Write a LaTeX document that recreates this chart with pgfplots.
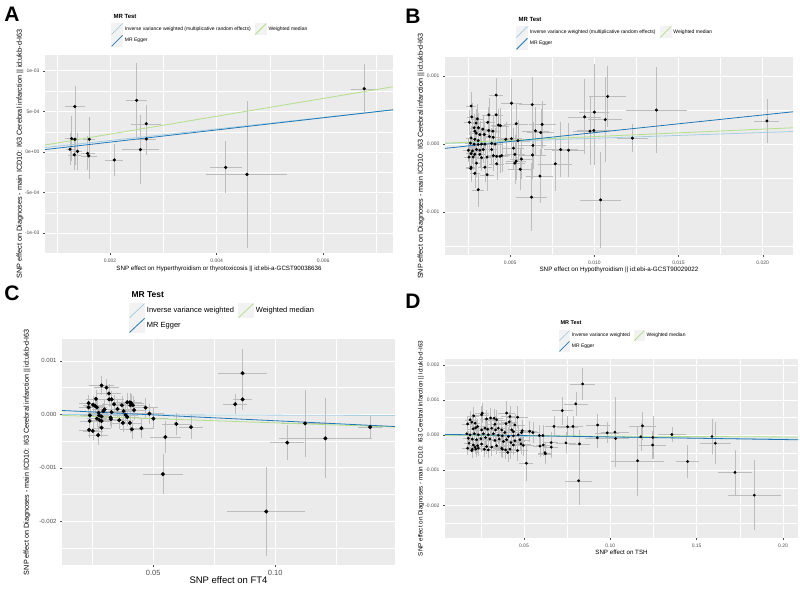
\documentclass[border=0pt]{standalone}
\usepackage{pgfplots}
\usepackage{pgfplotstable}
\pgfplotsset{compat=1.18}
\usepackage{fontspec}
\setmainfont{Liberation Sans}

\definecolor{ggbg}{HTML}{EBEBEB}
\definecolor{ivw}{HTML}{A6CEE3}
\definecolor{egger}{HTML}{1F78B4}
\definecolor{wmed}{HTML}{B2DF8A}
\definecolor{ebar}{HTML}{BDBDBD}
\definecolor{ticklab}{HTML}{4D4D4D}
\definecolor{keybg}{HTML}{F2F2F2}

\newcommand\fs[1]{\fontsize{#1}{#1}\selectfont}

\pgfplotsset{
  ggpanel/.style={
    scale only axis,
    anchor=south west,
    scaled ticks=false,
    axis background/.style={fill=ggbg},
    axis line style={draw=none},
    tick align=outside,
    tick pos=left,
    major tick length=2pt,
    minor tick length=0pt,
    tick style={ticklab, line width=0.4pt},
    grid=both,
    major grid style={white, line width=0.8pt},
    minor grid style={white, line width=0.4pt},
    ticklabel style={text=ticklab},
    /pgf/number format/assume math mode=true,
    legend cell align=left,
    legend columns=2,
    legend style={draw=none, fill=none, anchor=north west,
      /tikz/every even column/.append style={column sep=2pt}},
  },
  pts/.style={only marks, mark=*, mark options={black, fill=black}, forget plot,
    error bars/x dir=both, error bars/x explicit,
    error bars/y dir=both, error bars/y explicit,
    error bars/error bar style={ebar, line width=0.35pt},
    error bars/error mark=none},
}

% panel A: hyperthyroidism
\pgfplotstableread{
x y ex ey
0.00134 5.6e-4 1.9e-4 2.5e-4
0.00128 1.65e-4 1.2e-4 2.8e-4
0.00134 1.57e-4 1.0e-4 3.2e-4
0.00161 1.57e-4 1.1e-4 2.7e-4
0.00125 3.4e-5 8e-5 2.0e-4
0.00139 8e-6 9e-5 2.3e-4
0.00133 -3.4e-5 1.2e-4 1.9e-4
0.00158 -1.7e-5 1.3e-4 2.1e-4
0.00160 -4.7e-5 1.5e-4 2.8e-4
0.00208 -9.8e-5 1.7e-4 2.0e-4
0.00250 6.36e-4 2.0e-4 4.6e-4
0.00268 3.48e-4 2.8e-4 2.3e-4
0.00268 1.61e-4 1.8e-4 2.0e-4
0.00257 3.0e-5 3.5e-4 4.3e-4
0.00417 -1.9e-4 3.0e-4 3.2e-4
0.00457 -2.76e-4 7.6e-4 9.1e-4
0.00677 7.8e-4 2.5e-4 3.0e-4
}\dataA

% panel B: hypothyroidism
\pgfplotstableread{
x y ex ey
0.00417 7.2e-4 4e-4 2.5e-4
0.00268 5.6e-4 3e-4 2e-4
0.00508 6.0e-4 6e-4 3.5e-4
0.00631 5.8e-4 8e-4 4e-4
0.00272 4.0e-4 3e-4 2e-4
0.00305 3.7e-4 3.5e-4 2.2e-4
0.00373 4.3e-4 4e-4 2.5e-4
0.00417 4.3e-4 4e-4 2.6e-4
0.00258 3.2e-4 3e-4 1.8e-4
0.00367 3.2e-4 4e-4 2.2e-4
0.00298 3.1e-4 3e-4 2e-4
0.00430 2.8e-4 4.5e-4 2.4e-4
0.00442 2.7e-4 5e-4 2.6e-4
0.00536 3.0e-4 7e-4 3e-4
0.00690 2.9e-4 8e-4 3.5e-4
0.00286 2.4e-4 3e-4 2e-4
0.00312 2.4e-4 3e-4 2.2e-4
0.00338 2.2e-4 3.5e-4 2e-4
0.00373 2.0e-4 4e-4 2.2e-4
0.00397 1.9e-4 4e-4 2.3e-4
0.00650 1.96e-4 8e-4 3.5e-4
0.00682 1.7e-4 8e-4 3.5e-4
0.00290 1.9e-4 3e-4 2e-4
0.00298 1.6e-4 3e-4 1.9e-4
0.00320 1.4e-4 3.5e-4 2e-4
0.00346 1.4e-4 3.5e-4 2e-4
0.00377 1.1e-4 4e-4 2.2e-4
0.00399 1.0e-4 4e-4 2.2e-4
0.00474 7e-5 5e-4 2.5e-4
0.00508 8e-5 6e-4 2.8e-4
0.00546 5e-5 7e-4 3e-4
0.00268 9e-5 3e-4 1.8e-4
0.00290 7e-5 3e-4 1.9e-4
0.00310 5e-5 3.5e-4 2e-4
0.00264 1.5e-5 3e-4 1.8e-4
0.00286 0 3e-4 1.9e-4
0.00310 -5e-6 3.5e-4 2e-4
0.00330 0 3.5e-4 2e-4
0.00350 0 4e-4 2e-4
0.00390 1e-5 4e-4 2.2e-4
0.00410 0 4e-4 2.3e-4
0.00635 -2e-5 8e-4 3.5e-4
0.00520 -6e-5 6e-4 3e-4
0.00800 -8e-5 1e-3 4e-4
0.00847 -9e-5 1e-3 4e-4
0.00252 -9e-5 3e-4 1.8e-4
0.00276 -1e-4 3e-4 1.9e-4
0.00300 -8e-5 3e-4 2e-4
0.00320 -9e-5 3.5e-4 2e-4
0.00340 -8e-5 3.5e-4 2e-4
0.00390 -8e-5 4e-4 2.2e-4
0.00268 -1.4e-4 3e-4 1.9e-4
0.00290 -1.5e-4 3e-4 2e-4
0.00320 -1.5e-4 3.5e-4 2e-4
0.00633 -1.6e-4 8e-4 3.5e-4
0.00400 -1.7e-4 4e-4 2.2e-4
0.00420 -1.8e-4 4.5e-4 2.3e-4
0.00440 -1.8e-4 4.5e-4 2.4e-4
0.00450 -1.7e-4 5e-4 2.4e-4
0.00363 -1.9e-4 4e-4 2.1e-4
0.00256 -1.9e-4 3e-4 1.8e-4
0.00280 -1.9e-4 3e-4 1.9e-4
0.00330 -2.0e-4 3.5e-4 2e-4
0.00528 -1.5e-4 6e-4 2.8e-4
0.00567 -2.2e-4 7e-4 3e-4
0.00536 -2.5e-4 6e-4 2.8e-4
0.00528 -2.8e-4 6e-4 3e-4
0.00420 -2.9e-4 4.5e-4 2.4e-4
0.00300 -2.8e-4 3e-4 2e-4
0.00768 -2.9e-4 1e-3 4e-4
0.00268 -3.4e-4 3e-4 2e-4
0.00350 -3.4e-4 4e-4 2.2e-4
0.00266 -3.6e-4 3e-4 2e-4
0.00560 -3.7e-4 7e-4 3e-4
0.00290 -4.3e-4 3e-4 2.2e-4
0.00363 -4.5e-4 4e-4 2.4e-4
0.00677 -4.7e-4 8e-4 4e-4
0.00310 -6.7e-4 3.5e-4 2.5e-4
0.00627 -7.8e-4 9e-4 5e-4
0.00942 4.0e-4 1.0e-3 5.5e-4
0.01000 4.7e-4 9e-4 7e-4
0.01079 7.0e-4 1.1e-3 4.5e-4
0.01065 3.6e-4 1.0e-3 6.2e-4
0.00974 1.9e-4 1.0e-3 5e-4
0.00997 2.0e-4 1.0e-3 5e-4
0.01369 5.0e-4 1.8e-3 6.3e-4
0.01226 8.8e-5 9e-4 2.1e-4
0.02025 3.4e-4 7.4e-4 3.3e-4
0.01037 -8.2e-4 1.2e-3 7.1e-4
}\dataB

% panel C: FT4
\pgfplotstableread{
x y ex ey
0.0289 5.4e-4 0.005 1.8e-4
0.0309 5.0e-4 0.005 1.6e-4
0.0319 3.9e-4 0.005 1.7e-4
0.0266 2.9e-4 0.004 1.6e-4
0.0320 2.8e-4 0.005 1.5e-4
0.0330 2.8e-4 0.005 1.6e-4
0.0236 2.1e-4 0.004 1.5e-4
0.0254 1.8e-4 0.004 1.6e-4
0.0262 1.6e-4 0.004 1.5e-4
0.0270 1.3e-4 0.004 1.6e-4
0.0236 1.3e-4 0.004 1.5e-4
0.0301 9e-5 0.005 1.7e-4
0.0296 6e-5 0.005 1.6e-4
0.0277 3e-5 0.004 1.5e-4
0.0340 1.9e-4 0.005 1.7e-4
0.0354 1.0e-4 0.005 1.7e-4
0.0372 1.7e-4 0.005 1.8e-4
0.0394 2.25e-4 0.005 1.8e-4
0.0405 2.25e-4 0.005 1.8e-4
0.0411 2.1e-4 0.005 1.7e-4
0.0417 1.7e-4 0.005 1.8e-4
0.0407 1.7e-4 0.005 1.7e-4
0.0422 8e-5 0.005 1.8e-4
0.0379 6e-5 0.005 1.8e-4
0.0330 4e-5 0.005 1.6e-4
0.0387 -1e-5 0.005 1.7e-4
0.0394 -5e-5 0.005 1.7e-4
0.0241 -2e-5 0.004 1.5e-4
0.0279 -2e-5 0.004 1.6e-4
0.0289 -4e-5 0.004 1.6e-4
0.0270 -8e-5 0.004 1.6e-4
0.0281 -1.1e-4 0.004 1.6e-4
0.0289 -1.25e-4 0.004 1.6e-4
0.0326 -6e-5 0.005 1.6e-4
0.0327 -9e-5 0.005 1.6e-4
0.0240 -1.25e-4 0.004 1.6e-4
0.0361 -1.1e-4 0.005 1.7e-4
0.0376 -1.6e-4 0.005 1.7e-4
0.0405 -1.6e-4 0.005 1.8e-4
0.0289 -2.5e-4 0.004 1.7e-4
0.0238 -2.9e-4 0.004 1.6e-4
0.0253 -3.1e-4 0.004 1.7e-4
0.0275 -3.9e-4 0.004 1.8e-4
0.0413 -2.8e-4 0.005 1.8e-4
0.0452 -2.6e-4 0.005 1.8e-4
0.0469 1.25e-4 0.005 1.9e-4
0.0485 1.25e-5 0.006 1.9e-4
0.0501 -8e-5 0.006 2.0e-4
0.0595 -1.8e-4 0.006 2.0e-4
0.0655 -2.4e-4 0.0048 2.2e-4
0.0550 -4.25e-4 0.0063 3.0e-4
0.0540 -1.12e-3 0.0083 3.75e-4
0.0836 1.9e-4 0.0048 1.9e-4
0.0866 2.8e-4 0.004 1.9e-4
0.0866 7.7e-4 0.0099 4.6e-4
0.1049 -5.3e-4 0.007 3.3e-4
0.1122 -1.7e-4 0.010 6.25e-4
0.1205 -4.5e-4 0.019 7.5e-4
0.1388 -2.4e-4 0.005 2.0e-4
0.0963 -1.82e-3 0.016 8.3e-4
}\dataC

% panel D: TSH
\pgfplotstableread{
x y ex ey
0.0259 6.3e-4 0.004 2.8e-4
0.0255 5.8e-4 0.004 2.5e-4
0.0209 5.5e-4 0.003 2.6e-4
0.0188 4.4e-4 0.003 2.4e-4
0.0198 3.7e-4 0.003 2.2e-4
0.0174 3.2e-4 0.003 2.2e-4
0.0217 3.4e-4 0.003 2.3e-4
0.0232 2.5e-4 0.004 2.2e-4
0.0221 2.1e-4 0.003 2.1e-4
0.0207 1.8e-4 0.003 2.0e-4
0.0284 4.6e-4 0.004 2.6e-4
0.0307 4.9e-4 0.004 2.7e-4
0.0327 4.8e-4 0.005 2.6e-4
0.0342 4.4e-4 0.005 2.7e-4
0.0332 3.1e-4 0.005 2.4e-4
0.0400 6.3e-4 0.005 3.5e-4
0.0419 5.3e-4 0.005 3.0e-4
0.0415 3.8e-4 0.005 2.8e-4
0.0396 3.3e-4 0.005 2.6e-4
0.0463 5.1e-4 0.006 3.2e-4
0.0448 2.9e-4 0.006 3.0e-4
0.0275 2.0e-4 0.004 2.2e-4
0.0255 1.5e-4 0.004 2.1e-4
0.0290 1.7e-4 0.004 2.3e-4
0.0313 2.0e-4 0.004 2.3e-4
0.0336 1.5e-4 0.005 2.4e-4
0.0352 2.0e-4 0.005 2.4e-4
0.0371 1.5e-4 0.005 2.5e-4
0.0429 1.5e-4 0.005 2.8e-4
0.0439 9.5e-5 0.006 2.8e-4
0.0390 7.6e-5 0.005 2.6e-4
0.0490 1.3e-4 0.006 3.0e-4
0.0487 7.6e-5 0.006 3.0e-4
0.0169 4e-5 0.003 2.0e-4
0.0188 1e-5 0.003 2.0e-4
0.0213 4e-5 0.003 2.1e-4
0.0236 1e-5 0.004 2.2e-4
0.0265 4e-5 0.004 2.2e-4
0.0294 1e-5 0.004 2.3e-4
0.0323 4e-5 0.005 2.4e-4
0.0352 0 0.005 2.4e-4
0.0375 -2e-5 0.005 2.5e-4
0.0410 -4e-5 0.005 2.6e-4
0.0439 -2e-5 0.006 2.8e-4
0.0467 1e-5 0.006 2.9e-4
0.0178 -9e-5 0.003 2.0e-4
0.0201 -1.1e-4 0.003 2.1e-4
0.0226 -1.3e-4 0.004 2.1e-4
0.0251 -1e-4 0.004 2.2e-4
0.0278 -7e-5 0.004 2.2e-4
0.0303 -1.1e-4 0.004 2.3e-4
0.0332 -1.5e-4 0.005 2.4e-4
0.0357 -1.1e-4 0.005 2.5e-4
0.0381 -1.8e-4 0.005 2.5e-4
0.0400 -1.3e-4 0.005 2.6e-4
0.0425 -2.1e-4 0.005 2.7e-4
0.0448 -1.6e-4 0.006 2.8e-4
0.0477 -1.3e-4 0.006 2.9e-4
0.0483 -2.5e-4 0.006 3.0e-4
0.0496 -2.9e-4 0.006 3.0e-4
0.0182 -2.3e-4 0.003 2.0e-4
0.0207 -2.8e-4 0.003 2.1e-4
0.0232 -3.0e-4 0.004 2.2e-4
0.0255 -2.5e-4 0.004 2.2e-4
0.0284 -3.2e-4 0.004 2.3e-4
0.0313 -3.4e-4 0.004 2.4e-4
0.0342 -3.0e-4 0.005 2.4e-4
0.0371 -3.7e-4 0.005 2.5e-4
0.0394 -4.2e-4 0.005 2.6e-4
0.0419 -4.0e-4 0.005 2.7e-4
0.0439 -2.8e-4 0.006 2.8e-4
0.0463 -4.4e-4 0.006 2.9e-4
0.0174 -3.7e-4 0.003 2.0e-4
0.0201 -4.0e-4 0.003 2.1e-4
0.0217 -3.4e-4 0.003 2.1e-4
0.0236 -3.7e-4 0.004 2.2e-4
0.0271 -4.0e-4 0.004 2.3e-4
0.0294 -4.2e-4 0.004 2.4e-4
0.0198 -4.4e-4 0.003 2.1e-4
0.0221 -4.0e-4 0.003 2.2e-4
0.0406 -4.9e-4 0.005 2.7e-4
0.0375 -4.0e-4 0.005 2.6e-4
0.0514 -8.0e-4 0.004 5e-4
0.0589 -1e-5 0.004 3e-4
0.0610 -1e-5 0.004 3e-4
0.0593 -3.1e-4 0.004 3e-4
0.0612 -2.8e-4 0.004 3e-4
0.0622 -5.0e-4 0.004 3e-4
0.0624 -5.3e-4 0.004 3e-4
0.0658 -2.1e-4 0.004 3e-4
0.0658 -3.4e-4 0.004 3e-4
0.0533 1.1e-4 0.004 3e-4
0.0552 7.6e-5 0.004 3e-4
0.0840 1.46e-3 0.0073 4.5e-4
0.0800 8.9e-4 0.007 3.5e-4
0.0722 7.0e-4 0.006 4e-4
0.0674 2.5e-4 0.005 3e-4
0.0753 2.4e-4 0.006 3e-4
0.0784 2.5e-4 0.006 3e-4
0.0743 -2.2e-4 0.006 3e-4
0.0822 -2.5e-4 0.006 4e-4
0.0817 -1.3e-3 0.008 7e-4
0.0927 2.9e-4 0.007 3e-4
0.0925 -7.6e-5 0.007 3e-4
0.0982 6.6e-5 0.007 3e-4
0.1027 8.5e-5 0.008 1e-3
0.1031 -9.5e-5 0.008 4e-4
0.1187 2.65e-4 0.008 4e-4
0.1177 -4.7e-5 0.008 4e-4
0.1247 -6.6e-5 0.008 6e-4
0.1245 -2.8e-4 0.008 4e-4
0.1158 -7.3e-4 0.0154 1e-3
0.1357 1.9e-5 0.008 2e-4
0.1448 -7.5e-4 0.0068 4.7e-4
0.1589 -3.8e-5 0.009 5e-4
0.1608 -2.3e-4 0.009 6e-4
0.1722 -1.06e-3 0.010 6.4e-4
0.1834 -1.71e-3 0.0152 1e-3
}\dataD

\begin{document}
\begin{tikzpicture}
\path[use as bounding box] (0pt,0pt) rectangle (800pt,589pt);

% ---------- A ----------
\begin{axis}[ggpanel, at={(45pt,336pt)}, width=348pt, height=198pt,
  xmin=0.00078, xmax=0.00731, ymin=-1.244e-3, ymax=1.195e-3,
  xtick={0.002,0.004,0.006}, xticklabels={0.002,0.004,0.006},
  minor xtick={0.001,0.003,0.005,0.007},
  ytick={-1e-3,-5e-4,0,5e-4,1e-3},
  yticklabels={-1e-03,-5e-04,0e+00,5e-04,1e-03},
  minor ytick={-7.5e-4,-2.5e-4,2.5e-4,7.5e-4},
  ticklabel style={font=\fs{5}},
  xlabel={SNP effect on Hyperthyroidism or thyrotoxicosis || id:ebi-a-GCST90038636},
  ylabel={SNP effect on Diagnoses - main ICD10: I63 Cerebral infarction || id:ukb-d-I63},
  xlabel style={at={(axis description cs:0.5,-0.081)}, anchor=center, font=\fs{6.2}},
  ylabel style={at={(axis description cs:-0.072,0.5)}, anchor=center, font=\fs{7.3}},
  legend style={at={(0.181,1.172)}, font=\fs{5}},
  legend image code/.code={
    \fill[keybg] (0pt,-5.5pt) rectangle (11pt,5.5pt);
    \draw[#1] (0pt,-5.5pt) -- (11pt,5.5pt);},
]
\addplot[mark size=1.4pt, pts] table[x=x, y=y, x error=ex, y error=ey] {\dataA};
\addplot[ivw, line width=0.8pt] coordinates {(0.00078,5.5e-5) (0.00731,5.19e-4)};
\addlegendentry{Inverse variance weighted (multiplicative random effects)}
\addplot[wmed, line width=0.8pt] coordinates {(0.00078,8.6e-5) (0.00731,8.04e-4)};
\addlegendentry{Weighted median}
\addplot[egger, line width=0.8pt] coordinates {(0.00078,3.0e-5) (0.00731,5.2e-4)};
\addlegendentry{MR Egger}
\end{axis}

% ---------- B ----------
\begin{axis}[ggpanel, at={(445pt,334pt)}, width=348pt, height=198pt,
  xmin=0.00113, xmax=0.0218, ymin=-1.63e-3, ymax=1.28e-3,
  xtick={0.005,0.010,0.015,0.020}, xticklabels={0.005,0.010,0.015,0.020},
  minor xtick={0.0025,0.0075,0.0125,0.0175},
  ytick={-0.001,0,0.001}, yticklabels={-0.001,0.000,0.001},
  minor ytick={-0.0015,-0.0005,0.0005},
  ticklabel style={font=\fs{5}},
  xlabel={SNP effect on Hypothyroidism || id:ebi-a-GCST90029022},
  ylabel={SNP effect on Diagnoses - main ICD10: I63 Cerebral infarction || id:ukb-d-I63},
  xlabel style={at={(axis description cs:0.5,-0.076)}, anchor=center, font=\fs{6.3}},
  ylabel style={at={(axis description cs:-0.069,0.5)}, anchor=center, font=\fs{7.2}},
  legend style={at={(0.195,1.167)}, font=\fs{5}},
  legend image code/.code={
    \fill[keybg] (0pt,-5.5pt) rectangle (11pt,5.5pt);
    \draw[#1] (0pt,-5.5pt) -- (11pt,5.5pt);},
]
\addplot[mark size=1.3pt, pts] table[x=x, y=y, x error=ex, y error=ey] {\dataB};
\addplot[ivw, line width=0.8pt] coordinates {(0.00113,9.6e-6) (0.0218,1.85e-4)};
\addlegendentry{Inverse variance weighted (multiplicative random effects)}
\addplot[wmed, line width=0.8pt] coordinates {(0.00113,1.24e-5) (0.0218,2.40e-4)};
\addlegendentry{Weighted median}
\addplot[egger, line width=0.8pt] coordinates {(0.00113,-6.3e-5) (0.0218,4.75e-4)};
\addlegendentry{MR Egger}
\end{axis}

% ---------- C ----------
\begin{axis}[ggpanel, at={(62pt,24pt)}, width=333pt, height=226pt,
  xmin=0.0127, xmax=0.149, ymin=-2.82e-3, ymax=1.41e-3,
  xtick={0.05,0.10}, xticklabels={0.05,0.10},
  minor xtick={0.025,0.075,0.125},
  ytick={-0.002,-0.001,0,0.001}, yticklabels={-0.002,-0.001,0.000,0.001},
  minor ytick={-0.0025,-0.0015,-0.0005,0.0005},
  xticklabel style={font=\fs{7.5}}, yticklabel style={font=\fs{6}},
  xlabel={SNP effect on FT4},
  ylabel={SNP effect on Diagnoses - main ICD10: I63 Cerebral infarction || id:ukb-d-I63},
  xlabel style={at={(axis description cs:0.5,-0.066)}, anchor=center, font=\fs{9.5}},
  ylabel style={at={(axis description cs:-0.105,0.5)}, anchor=center, font=\fs{7.2}},
  legend style={at={(0.192,1.168)}, font=\fs{7.5}},
  legend image code/.code={
    \fill[keybg] (0pt,-7pt) rectangle (15pt,7pt);
    \draw[#1] (0pt,-7pt) -- (15pt,7pt);},
]
\addplot[mark size=1.8pt, pts] table[x=x, y=y, x error=ex, y error=ey] {\dataC};
\addplot[ivw, line width=0.8pt] coordinates {(0.0127,-2e-6) (0.149,-2.2e-5)};
\addlegendentry{Inverse variance weighted}
\addplot[wmed, line width=0.8pt] coordinates {(0.0127,-2.0e-5) (0.149,-2.38e-4)};
\addlegendentry{Weighted median}
\addplot[egger, line width=0.8pt] coordinates {(0.0127,7.2e-5) (0.149,-2.28e-4)};
\addlegendentry{MR Egger}
\end{axis}

% ---------- D ----------
\begin{axis}[ggpanel, at={(445pt,51pt)}, width=353pt, height=179pt,
  xmin=0.0043, xmax=0.2087, ymin=-2.93e-3, ymax=2.17e-3,
  xtick={0.05,0.10,0.15,0.20}, xticklabels={0.05,0.10,0.15,0.20},
  minor xtick={0.025,0.075,0.125,0.175},
  ytick={-0.002,-0.001,0,0.001,0.002}, yticklabels={-0.002,-0.001,0.000,0.001,0.002},
  minor ytick={-0.0025,-0.0015,-0.0005,0.0005,0.0015},
  ticklabel style={font=\fs{5}},
  xlabel={SNP effect on TSH},
  ylabel={SNP effect on Diagnoses - main ICD10: I63 Cerebral infarction || id:ukb-d-I63},
  xlabel style={at={(axis description cs:0.5,-0.078)}, anchor=center, font=\fs{6.2}},
  ylabel style={at={(axis description cs:-0.068,0.5)}, anchor=center, font=\fs{6.3}},
  legend style={at={(0.314,1.173)}, font=\fs{5}},
  legend image code/.code={
    \fill[keybg] (0pt,-5pt) rectangle (10pt,5pt);
    \draw[#1] (0pt,-5pt) -- (10pt,5pt);},
]
\addplot[mark size=1.2pt, pts] table[x=x, y=y, x error=ex, y error=ey] {\dataD};
\addplot[ivw, line width=0.8pt] coordinates {(0.0043,-2.4e-6) (0.2087,-1.15e-4)};
\addlegendentry{Inverse variance weighted}
\addplot[wmed, line width=0.8pt] coordinates {(0.0043,-1.1e-6) (0.2087,-5.2e-5)};
\addlegendentry{Weighted median}
\addplot[egger, line width=0.8pt] coordinates {(0.0043,2.2e-5) (0.2087,-1.32e-4)};
\addlegendentry{MR Egger}
\end{axis}

% legend titles and panel letters
\node[anchor=west, font=\bfseries\fs{6}] at (110pt,573pt) {MR Test};
\node[anchor=west, font=\bfseries\fs{6}] at (515pt,570pt) {MR Test};
\node[anchor=west, font=\bfseries\fs{8.5}] at (128pt,294pt) {MR Test};
\node[anchor=west, font=\bfseries\fs{5.5}] at (557pt,266pt) {MR Test};
\node[font=\bfseries\fs{21}] at (12pt,575pt) {A};
\node[font=\bfseries\fs{21}] at (413pt,573pt) {B};
\node[font=\bfseries\fs{21}] at (12pt,296pt) {C};
\node[font=\bfseries\fs{21}] at (413pt,288pt) {D};
\end{tikzpicture}
\end{document}
